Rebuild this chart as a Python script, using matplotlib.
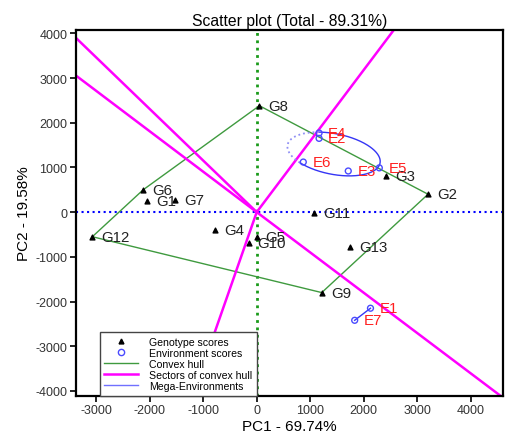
import numpy as np
import matplotlib.pyplot as plt
from matplotlib.lines import Line2D

plt.rcParams['font.family'] = ['Liberation Sans', 'DejaVu Sans']
plt.rcParams['axes.unicode_minus'] = False

# genotype scores (PC1, PC2)
gen_names = ["G1", "G2", "G3", "G4", "G5", "G6", "G7", "G8", "G9", "G10", "G11", "G12", "G13"]
gen_pc1 = [-2040, 3200, 2410, -770, 0, -2120, -1530, 50, 1215, -150, 1070, -3070, 1750]
gen_pc2 = [240, 400, 810, -400, -550, 500, 270, 2380, -1800, -700, -20, -550, -770]

# environment scores
env_names = ["E1", "E2", "E3", "E4", "E5", "E6", "E7"]
env_pc1 = [2125, 1165, 1710, 1165, 2290, 870, 1830]
env_pc2 = [-2150, 1650, 920, 1770, 990, 1120, -2420]

# convex hull vertices (in order)
hull = ["G8", "G2", "G9", "G12", "G6", "G8"]

# mega-environment 1 ellipse (center, semi axes, tilt), mega-environment 2 pair
mega_center = (1440, 1300)
mega_axes = (888, 450)
mega_tilt = -14.6
mega_pair = ["E1", "E7"]

fig, ax = plt.subplots(figsize=(5.05, 4.39), dpi=100)
fig.subplots_adjust(left=0.150, right=0.996, bottom=0.096, top=0.929)

ax.axvline(0, color="#1a9a1a", ls=":", lw=2, zorder=1)
ax.axhline(0, color="#0000ff", ls=":", lw=1.5, zorder=1)

gx = dict(zip(gen_names, gen_pc1))
gy = dict(zip(gen_names, gen_pc2))
hx = np.array([gx[g] for g in hull], dtype=float)
hy = np.array([gy[g] for g in hull], dtype=float)
ax.plot(hx, hy, color="#3f9a3f", lw=1, zorder=2)

# sector rays: perpendicular from origin to each hull edge, extended
for i in range(len(hull) - 1):
    p = np.array([hx[i], hy[i]])
    d = np.array([hx[i + 1], hy[i + 1]]) - p
    t = -p.dot(d) / d.dot(d)
    f = p + t * d
    f = f / np.linalg.norm(f) * 20000
    ax.plot([0, f[0]], [0, f[1]], color="#ff00ff", lw=1.8, zorder=2)

# ellipse for mega-environment
phi = np.radians(mega_tilt)
a, b = mega_axes
def ell(tt):
    ex = mega_center[0] + a * np.cos(tt) * np.cos(phi) - b * np.sin(tt) * np.sin(phi)
    ey = mega_center[1] + a * np.cos(tt) * np.sin(phi) + b * np.sin(tt) * np.cos(phi)
    return ex, ey
ts = np.radians(np.linspace(231, 476, 300))
td = np.radians(np.linspace(116, 231, 150))
ax.plot(*ell(ts), color="#3535f5", lw=1, zorder=3)
ax.plot(*ell(td), color="#8f8ff5", lw=1.3, ls=":", zorder=3)

ex = dict(zip(env_names, env_pc1))
ey = dict(zip(env_names, env_pc2))
ax.plot([ex[e] for e in mega_pair], [ey[e] for e in mega_pair], color="#3535f5", lw=1, zorder=3)

ax.scatter(gen_pc1, gen_pc2, marker="^", s=12, color="black", zorder=4)
ax.scatter(env_pc1, env_pc2, marker="o", s=18, facecolors="none", edgecolors="#4a4aff", lw=1, zorder=4)

for n, x, y in zip(gen_names, gen_pc1, gen_pc2):
    ax.annotate(n, (x, y), xytext=(6.5, 0), textcoords="offset points",
                ha="left", va="center", fontsize=10.8, color="#222222", zorder=5)
for n, x, y in zip(env_names, env_pc1, env_pc2):
    ax.annotate(n, (x, y), xytext=(6.5, 0), textcoords="offset points",
                ha="left", va="center", fontsize=10.8, color="#ff2020", zorder=5)

ax.set_xlim(-3380, 4600)
ax.set_ylim(-4110, 4070)
ax.set_xticks(range(-3000, 4001, 1000))
ax.set_yticks(range(-4000, 4001, 1000))
ax.tick_params(labelsize=9, labelcolor="#333333", length=4, width=1.2, pad=2)
for s in ax.spines.values():
    s.set_linewidth(1.6)

ax.set_title("Scatter plot (Total - 89.31%)", fontsize=11.3, pad=4)
ax.set_xlabel("PC1 - 69.74%", fontsize=11, labelpad=2)
ax.set_ylabel("PC2 - 19.58%", fontsize=11, labelpad=3)

handles = [
    Line2D([], [], marker="^", color="black", ls="none", markersize=3.5),
    Line2D([], [], marker="o", mfc="none", mec="#4a4aff", ls="none", markersize=4.5),
    Line2D([], [], color="#3f9a3f", lw=1),
    Line2D([], [], color="#ff00ff", lw=1.8),
    Line2D([], [], color="#7070ff", lw=1),
]
labels = ["Genotype scores", "Environment scores", "Convex hull",
          "Sectors of convex hull", "Mega-Environments"]
leg = ax.legend(handles, labels, loc="lower left", bbox_to_anchor=(0.056, 0.0),
                fontsize=7.6, frameon=True, fancybox=False, edgecolor="#444444",
                framealpha=1, borderpad=0.45, labelspacing=0.1, handlelength=3.2,
                handletextpad=1.0, borderaxespad=0)
leg.get_frame().set_linewidth(1)

fig.savefig("out.png", dpi=100)
